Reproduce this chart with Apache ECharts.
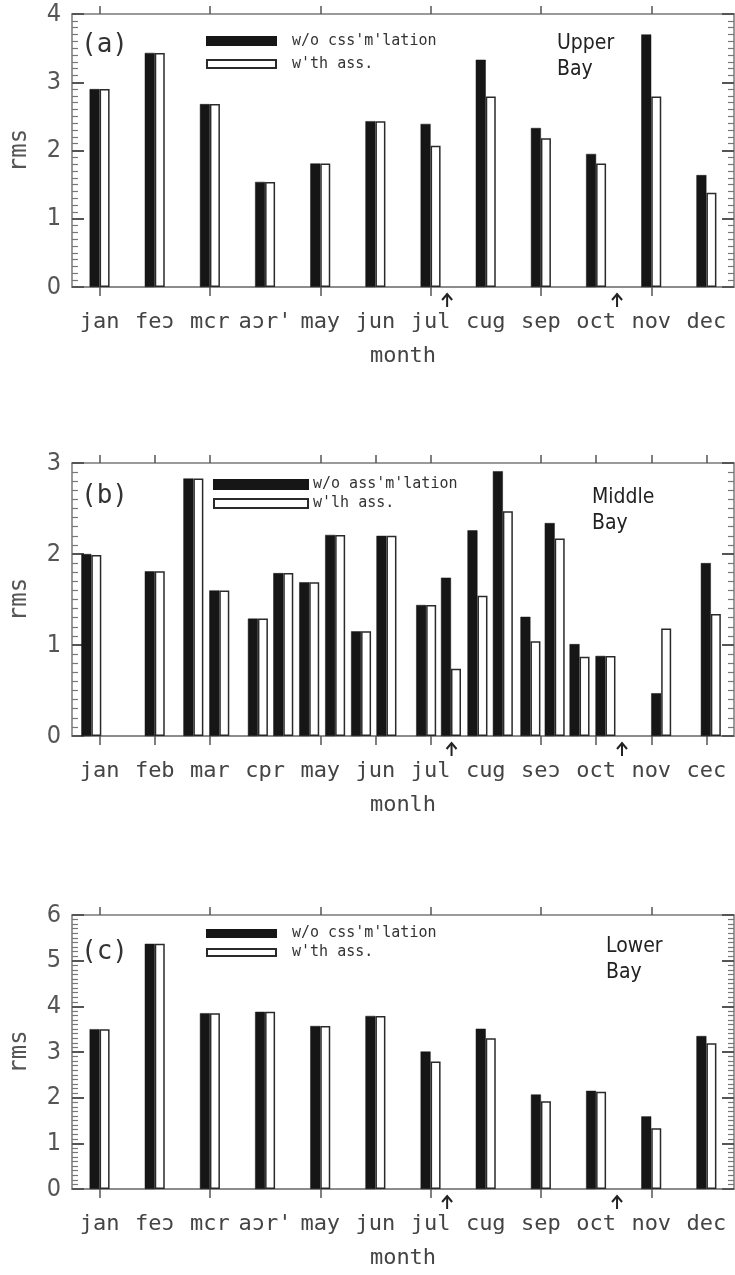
<!DOCTYPE html>
<html><head><meta charset="utf-8">
<script src="https://cdn.jsdelivr.net/npm/echarts@6/dist/echarts.min.js"></script>
<style>html,body{margin:0;padding:0;background:#fff}#c{width:735px;height:1275px}</style>
</head><body><div id="c"></div>
<script>
// ---------- data ----------
const monthsA = ["jan","feɔ","mcr","aɔr'","may","jun","jul","cug","sep","oct","nov","dec"];
const monthsB = ["jan","feb","mar","cpr","may","jun","jul","cug","seɔ","oct","nov","cec"];
const monthsC = ["jan","feɔ","mcr","aɔr'","may","jun","jul","cug","sep","oct","nov","dec"];
const monthIdx = [0,1,2,3,4,5,6,7,8,9,10,11];

// panel (a) Upper Bay
const xA = [0,1,2,3,4,5,6,7,8,9,10,11];
const woA = [2.90,3.43,2.68,1.54,1.81,2.43,2.39,3.33,2.33,1.95,3.70,1.64];
const wA  = [2.90,3.43,2.68,1.54,1.81,2.43,2.07,2.79,2.18,1.81,2.79,1.38];
// panel (b) Middle Bay (bars at irregular positions, in month units)
const xB  = [-0.15,1.0,1.7,2.17,2.87,3.33,3.8,4.27,4.74,5.2,5.92,6.37,6.85,7.31,7.81,8.25,8.7,9.17,10.18,11.08];
const woB = [2.00,1.81,2.83,1.60,1.29,1.79,1.69,2.21,1.15,2.20,1.44,1.74,2.26,2.91,1.31,2.34,1.01,0.88,0.47,1.90];
const wB  = [1.99,1.81,2.83,1.60,1.29,1.79,1.69,2.21,1.15,2.20,1.44,0.74,1.54,2.47,1.04,2.17,0.87,0.88,1.18,1.34];
// panel (c) Lower Bay
const xC = [0,1,2,3,4,5,6,7,8,9,10,11];
const woC = [3.50,5.37,3.85,3.88,3.57,3.79,3.01,3.51,2.07,2.15,1.59,3.35];
const wC  = [3.50,5.37,3.85,3.88,3.57,3.79,2.79,3.30,1.92,2.13,1.33,3.19];

const ticksA = [0,2,4,6,8,10];
const ticksB = [0,1,2,4,5,6,8,9,10,11];
const arrowsA = [6.3,9.38];
const arrowsB = [6.38,9.47];
const arrowsC = [6.3,9.38];

const namesAC = ["w/o css'm'lation","w'th ass."];
const namesB = ["w/o ass'm'lation","w'lh ass."];

// ---------- styles ----------
const MONO = "'DejaVu Sans Mono', monospace";
const NARROW = "'Liberation Sans Narrow','DejaVu Sans Condensed',sans-serif";

const panels = [
  {top:14, bottom:988, left:67, ymax:4, months:monthsA, xs:xA, wo:woA, w:wA, names:namesAC, xTicks:ticksA, xname:'month', arrows:arrowsA,
   tag:'(a)', tagTop:32, region:'Upper\nBay', regLeft:557, regTop:31,
   legend:{left:206, top:33, itemWidth:69, itemHeight:8, itemGap:7, lh:16, fs:15, pad:11}},
  {top:463, bottom:539, left:68, ymax:3, months:monthsB, xs:xB, wo:woB, w:wB, names:namesB, xTicks:ticksB, xname:'monlh', arrows:arrowsB,
   tag:'(b)', tagTop:483, region:'Middle\nBay', regLeft:592, regTop:485,
   legend:{left:213, top:477, itemWidth:94, itemHeight:9, itemGap:4, lh:14, fs:15, pad:0}},
  {top:915, bottom:86, left:67, ymax:6, months:monthsC, xs:xC, wo:woC, w:wC, names:namesAC, xTicks:ticksA, xname:'month', arrows:arrowsC,
   tag:'(c)', tagTop:939, region:'Lower\nBay', regLeft:606, regTop:934,
   legend:{left:206, top:926, itemWidth:69, itemHeight:7, itemGap:4, lh:13, fs:15, pad:11}}
];

const option = {animation:false, backgroundColor:'#fff', grid:[], xAxis:[], yAxis:[], series:[], legend:[]};

panels.forEach((p,i)=>{
  option.grid.push({left:p.left, right:1, top:p.top, bottom:p.bottom, show:false});
  option.xAxis.push({
    gridIndex:i, type:'value', position:'bottom', min:-0.5, max:11.5,
    axisLine:{show:true, onZero:false, lineStyle:{color:'#8c8c8c', width:2}},
    axisTick:{show:true, customValues:p.xTicks, length:9, inside:false, lineStyle:{color:'#555', width:1.5}},
    axisLabel:{show:true, customValues:monthIdx, formatter:(v)=>p.months[Math.round(v)], fontFamily:MONO, fontSize:22, color:'#444', margin:24},
    splitLine:{show:false},
    name:p.xname, nameLocation:'middle', nameGap:58, nameTextStyle:{fontFamily:MONO, fontSize:22, color:'#444'}
  });
  option.xAxis.push({
    gridIndex:i, type:'value', position:'top', min:-0.5, max:11.5,
    axisLine:{show:true, onZero:false, lineStyle:{color:'#7a7a7a', width:1.5}},
    axisTick:{show:true, customValues:p.xTicks, length:8, inside:false, lineStyle:{color:'#555', width:1.5}},
    axisLabel:{show:false}, splitLine:{show:false}
  });
  const yBase = {
    gridIndex:i, type:'value', min:0, max:p.ymax, interval:1,
    axisLine:{show:true, onZero:false, lineStyle:{color:'#7a7a7a', width:1.5}},
    axisTick:{show:true, inside:true, length:12, lineStyle:{color:'#555', width:2}},
    minorTick:{show:true, splitNumber:10, length:6, lineStyle:{color:'#777', width:1.2}},
    splitLine:{show:false}
  };
  option.yAxis.push(Object.assign({}, yBase, {
    position:'left',
    axisLabel:{fontFamily:NARROW, fontSize:25, color:'#555', margin:11},
    name:'rms', nameLocation:'middle', nameRotate:90, nameGap:40,
    nameTextStyle:{fontFamily:MONO, fontSize:24, color:'#555'}
  }));
  option.yAxis.push(Object.assign({}, yBase, {position:'right', axisLabel:{show:false}}));

  option.series.push({
    type:'bar', name:p.names[0], xAxisIndex:2*i, yAxisIndex:2*i,
    data:p.xs.map((x,k)=>[x,p.wo[k]]), barWidth:10, barGap:'0%',
    itemStyle:{color:'#161616', borderColor:'#161616', borderWidth:0.5}
  });
  option.series.push({
    type:'bar', name:p.names[1], xAxisIndex:2*i, yAxisIndex:2*i,
    data:p.xs.map((x,k)=>[x,p.w[k]]), barWidth:10, barGap:'0%',
    itemStyle:{color:'#ffffff', borderColor:'#2a2a2a', borderWidth:1.5}
  });
  const L = p.legend;
  option.legend.push({
    data:p.names, orient:'vertical', left:L.left, top:L.top, padding:0,
    itemWidth:L.itemWidth, itemHeight:L.itemHeight, itemGap:L.itemGap, icon:'rect',
    selectedMode:false,
    textStyle:{fontFamily:MONO, fontSize:L.fs, lineHeight:L.lh, color:'#333', padding:[0,0,0,L.pad]}
  });
});

const chart = echarts.init(document.getElementById('c'), null, {renderer:'canvas'});
chart.setOption(option);

const graphics = [];
panels.forEach((p,i)=>{
  graphics.push({type:'text', left:81, top:p.tagTop, style:{text:p.tag, font:"26px "+MONO, fill:'#333'}});
  graphics.push({type:'text', left:p.regLeft, top:p.regTop, style:{text:p.region, font:"21px "+NARROW, lineHeight:26, fill:'#222'}});
  p.arrows.forEach(ax=>{
    const pt = chart.convertToPixel({xAxisIndex:2*i, yAxisIndex:2*i}, [ax,0]);
    const x = pt[0], y = pt[1];
    graphics.push({type:'line', shape:{x1:x, y1:y+7, x2:x, y2:y+20}, style:{stroke:'#222', lineWidth:2}});
    graphics.push({type:'polyline', shape:{points:[[x-5,y+13],[x,y+7],[x+5,y+13]]}, style:{stroke:'#222', lineWidth:2, fill:null}});
  });
});
chart.setOption({graphic:graphics});
</script>
</body></html>
